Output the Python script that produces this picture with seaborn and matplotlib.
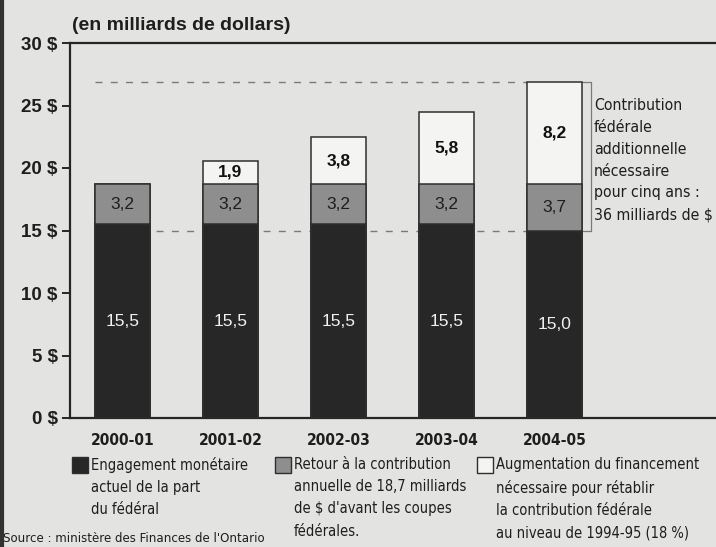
import matplotlib
matplotlib.use("Agg")
import matplotlib.pyplot as plt
import seaborn as sns
import pandas as pd
from matplotlib.patches import Rectangle
from matplotlib.lines import Line2D

# Data (billions of dollars)
years = ["2000-01", "2001-02", "2002-03", "2003-04", "2004-05"]
engagement = [15.5, 15.5, 15.5, 15.5, 15.0]
retour = [3.2, 3.2, 3.2, 3.2, 3.7]
augmentation = [0.0, 1.9, 3.8, 5.8, 8.2]
y_ticks = [0, 5, 10, 15, 20, 25, 30]

title = "(en milliards de dollars)"
legend_labels = [
    "Engagement monétaire\nactuel de la part\ndu fédéral",
    "Retour à la contribution\nannuelle de 18,7 milliards\nde $ d'avant les coupes\nfédérales.",
    "Augmentation du financement\nnécessaire pour rétablir\nla contribution fédérale\nau niveau de 1994-95 (18 %)",
]
note = "Contribution\nfédérale\nadditionnelle\nnécessaire\npour cinq ans :\n36 milliards de $"
source = "Source : ministère des Finances de l'Ontario"

BG = "#e3e3e1"
DARK = "#272727"
MID = "#8e8e8e"
LIGHT = "#f4f4f2"
EDGE = "#2e2e2e"
INK = "#1e1e1e"

sns.set_theme(style="white")
plt.rcParams["font.family"] = ["Liberation Sans", "DejaVu Sans"]
NARROW = dict(family="DejaVu Sans", fontstretch="condensed")

df = pd.DataFrame({"year": years, "eng": engagement, "ret": retour, "aug": augmentation})
df["lvl1"] = df["eng"]
df["lvl2"] = df["eng"] + df["ret"]
df["lvl3"] = df["lvl2"] + df["aug"]

fig = plt.figure(figsize=(7.16, 5.47), dpi=100, facecolor=BG)
W, H = 716, 547
ax = fig.add_axes([70 / W, 1 - 418 / H, 1 - 70 / W, (418 - 43) / H])
ax.set_facecolor(BG)

bw = 0.51
for col, c in (("lvl3", LIGHT), ("lvl2", MID), ("lvl1", DARK)):
    sns.barplot(data=df, x="year", y=col, color=c, saturation=1, width=bw,
                edgecolor=EDGE, linewidth=1.1, ax=ax, zorder=3)

xmin = -0.486
ax.set_xlim(xmin, xmin + (W - 70) / 108)
ax.set_ylim(0, 30)

# reference lines for the last year
last = len(years) - 1
top_last = df["lvl3"].iloc[last]
base_last = df["lvl1"].iloc[last]
for yv in (top_last, base_last):
    ax.plot([-bw / 2, last - bw / 2], [yv, yv], ls=(0, (5, 6)), color="#7a7a7a",
            lw=1.0, zorder=1)

# bracket beside the last bar
bx0 = last + bw / 2
bx1 = bx0 + 0.085
ax.plot([bx0, bx1, bx1, bx0], [top_last, top_last, base_last, base_last],
        color="#7a7a7a", lw=0.9, zorder=2, clip_on=False)
fig.text(594 / W, 1 - 98 / H, note, ha="left", va="top", fontsize=11.3,
         color=INK, linespacing=1.57, **NARROW)

# value labels
def fmt(v):
    return f"{v:.1f}".replace(".", ",")

for i in range(len(years)):
    e, r, a = engagement[i], retour[i], augmentation[i]
    ax.text(i, e / 2, fmt(e), ha="center", va="center", color="#f0f0f0",
            fontsize=12.5, zorder=5)
    ax.text(i, e + r / 2, fmt(r), ha="center", va="center", color=INK,
            fontsize=12.5, zorder=5)
    if a > 0:
        ax.text(i, e + r + a / 2, fmt(a), ha="center", va="center", color="#111111",
                fontsize=12.5, fontweight="bold", zorder=5)

# axes styling
for s in ("left", "top", "bottom"):
    ax.spines[s].set_visible(True)
    ax.spines[s].set_color("#262626")
    ax.spines[s].set_linewidth(1.6)
ax.spines["right"].set_visible(False)
ax.set_yticks(y_ticks)
ax.set_yticklabels([f"{v} $" for v in y_ticks], fontsize=13.5, fontweight="bold",
                   color=INK)
ax.tick_params(axis="y", left=True, length=6, width=1.4, color="#262626", pad=3)
ax.tick_params(axis="x", bottom=False, length=0, pad=11)
ax.set_xticks(range(len(years)))
ax.set_xticklabels(years, fontsize=11.2, fontweight="bold", color=INK, **NARROW)
ax.set_xlabel("")
ax.set_ylabel("")
ax.grid(False)

fig.text(72 / W, 1 - 26 / H, title, ha="left", va="center", fontsize=14,
         fontweight="bold", color=INK)

# legend
leg_x = [72, 275, 477]
leg_colors = [DARK, MID, LIGHT]
for x0, c, lab in zip(leg_x, leg_colors, legend_labels):
    fig.patches.append(Rectangle((x0 / W, 1 - 473 / H), 16 / W, 16 / H,
                                 transform=fig.transFigure, facecolor=c,
                                 edgecolor=EDGE, linewidth=1.0))
    fig.text((x0 + 19) / W, 1 - 457 / H, lab, ha="left", va="top", fontsize=10.5,
             color=INK, linespacing=1.6, **NARROW)

fig.text(3 / W, 1 - 538 / H, source, ha="left", va="center", fontsize=9.45,
         color=INK, **NARROW)

# dark margin line on the left edge
fig.lines.append(Line2D([1.5 / W, 1.5 / W], [0, 1], transform=fig.transFigure,
                        color="#333333", lw=3))

fig.savefig("out.png", dpi=100, facecolor=BG)
